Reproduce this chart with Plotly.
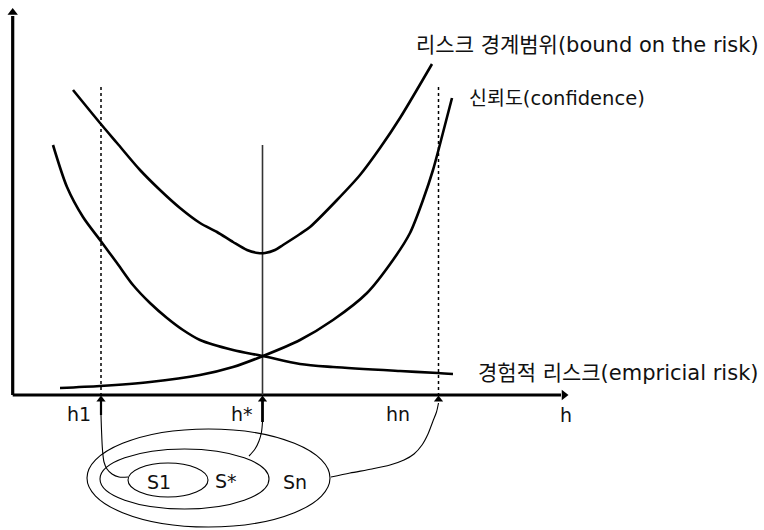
import plotly.graph_objects as go

# ---- data (diagram coordinates, x to the right, y downward) ----
bound_x = [73, 100, 117, 140, 160, 180, 200, 217, 233, 247, 258, 265, 275, 283, 300, 310, 337, 360, 380, 400, 432]
bound_y = [90, 123, 143, 170, 190, 208, 223, 232, 242, 250, 253, 253, 250, 245, 234, 227, 200, 175, 148, 118, 64]

emp_x = [53, 67, 83, 100, 117, 133, 150, 167, 183, 200, 233, 263, 300, 333, 400, 438, 453]
emp_y = [145, 187, 217, 240, 263, 285, 303, 318, 330, 340, 350, 356, 364, 367, 371, 373, 374]

conf_x = [60, 100, 150, 200, 233, 263, 300, 333, 367, 393, 410, 423, 433, 439, 452]
conf_y = [388, 386, 382, 375, 367, 356, 340, 320, 293, 260, 233, 200, 170, 148, 98]

# positions of the hypotheses h1, h*, hn on the axis
h_pos = [101, 262.5, 438.5]
h_labels = ["h1", "h*", "hn"]
h_label_x = [79, 242, 398]

# nested structures S1 ⊂ S* ⊂ Sn : (x0, x1, y0, y1)
ell_x0 = [87, 100, 128]
ell_x1 = [330, 269, 208]
ell_y0 = [429, 449, 463]
ell_y1 = [527, 509, 497]
s_labels = ["Sn", "S*", "S1"]
s_label_x = [295, 226, 159]
s_label_y = [482, 481, 482]

# links from the structures to the axis
link1_x = [101, 101.5, 102.5, 104, 107, 112, 119, 128]
link1_y = [415, 430, 450, 462, 469, 474, 477, 477]
link2_x = [262.5, 261.5, 259, 255, 249]
link2_y = [422, 432, 441, 449, 456]
link3_x = [438.5, 436.5, 433, 428, 422, 414, 404, 390, 372, 350, 331]
link3_y = [403, 412, 421, 434, 445, 454, 460, 465, 469, 473, 477]

curve_labels = ["리스크 경계범위(bound on the risk)", "신뢰도(confidence)", "경험적 리스크(empricial risk)"]
curve_label_x = [414, 467, 476]
curve_label_y = [45, 98, 373]
curve_label_size = [21, 19.5, 21]

FONT = "DejaVu Sans, Noto Sans CJK KR, sans-serif"
K = "black"

fig = go.Figure()

def line(x, y, w, color=K, dash="solid", shape="spline"):
    fig.add_trace(go.Scatter(x=x, y=y, mode="lines", hoverinfo="skip",
                             line=dict(color=color, width=w, dash=dash, shape=shape, smoothing=0.8)))

# axes
line([12.7, 12.7], [395, 16], 3.2, shape="linear")
line([12.7, 561], [395, 395], 3.2, shape="linear")
fig.add_trace(go.Scatter(x=[12.7], y=[12.5], mode="markers", hoverinfo="skip",
                         marker=dict(symbol="triangle-up", size=9, color=K)))
fig.add_trace(go.Scatter(x=[564], y=[395], mode="markers", hoverinfo="skip",
                         marker=dict(symbol="triangle-right", size=9, color=K)))

# guide lines
line([h_pos[0], h_pos[0]], [87, 395], 1.5, dash="dot", shape="linear")
line([h_pos[2], h_pos[2]], [87, 395], 1.5, dash="dot", shape="linear")
line([h_pos[1], h_pos[1]], [145, 395], 1.6, color="#333333", shape="linear")

# curves
line(bound_x, bound_y, 2.6)
line(emp_x, emp_y, 2.6)
line(conf_x, conf_y, 2.6)

# links / arrows
line([h_pos[0], h_pos[0]], [400, 415], 2.2, shape="linear")
line([h_pos[1], h_pos[1]], [400, 422], 2.8, shape="linear")
line(link1_x, link1_y, 1.1)
line(link2_x, link2_y, 1.1)
line(link3_x, link3_y, 1.1)
fig.add_trace(go.Scatter(x=h_pos, y=[399.5] * 3, mode="markers", hoverinfo="skip",
                         marker=dict(symbol="triangle-up", size=8, color=K)))

shapes = []
for x0, x1, y0, y1 in zip(ell_x0, ell_x1, ell_y0, ell_y1):
    shapes.append(dict(type="circle", xref="x", yref="y", x0=x0, x1=x1, y0=y0, y1=y1,
                       line=dict(color=K, width=1.1)))

ann = []
for t, x in zip(h_labels, h_label_x):
    ann.append(dict(x=x, y=414, text=t, showarrow=False, xanchor="center", yanchor="middle"))
ann.append(dict(x=566, y=415, text="h", showarrow=False, xanchor="center", yanchor="middle"))
for t, x, y in zip(s_labels, s_label_x, s_label_y):
    ann.append(dict(x=x, y=y, text=t, showarrow=False, xanchor="center", yanchor="middle"))
for t, x, y, s in zip(curve_labels, curve_label_x, curve_label_y, curve_label_size):
    ann.append(dict(x=x, y=y, text=t, showarrow=False, xanchor="left", yanchor="middle",
                    font=dict(size=s)))

fig.update_layout(
    width=764, height=530, margin=dict(l=0, r=0, t=0, b=0),
    paper_bgcolor="white", plot_bgcolor="white", showlegend=False,
    font=dict(family=FONT, size=19, color="#111111"),
    xaxis=dict(range=[0, 764], visible=False, fixedrange=True),
    yaxis=dict(range=[530, 0], visible=False, fixedrange=True),
    shapes=shapes, annotations=ann,
)

fig.write_html("out.html", config={"displayModeBar": False},
               post_script="document.body.style.margin='0';")
